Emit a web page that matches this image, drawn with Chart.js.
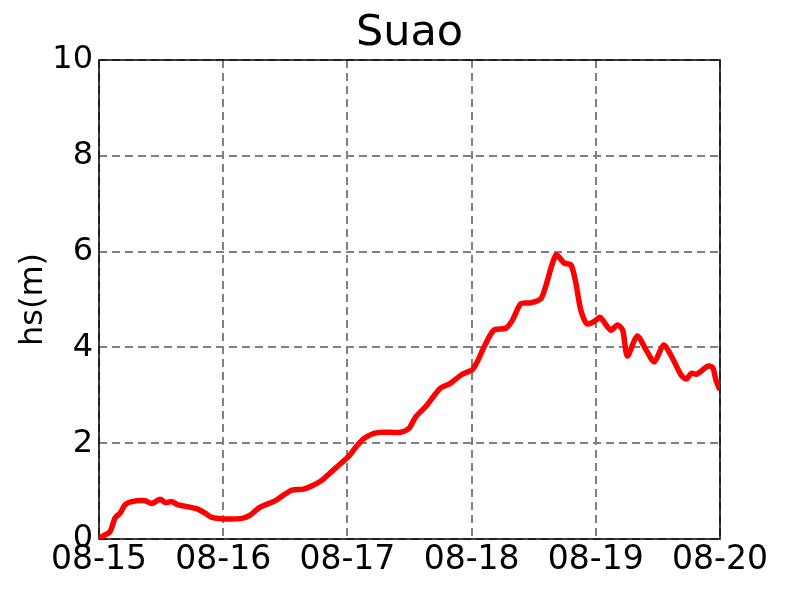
<!DOCTYPE html>
<html>
<head>
<meta charset="utf-8">
<script src="https://cdn.jsdelivr.net/npm/chart.js@4/dist/chart.umd.min.js"></script>
<style>
  html, body { margin: 0; padding: 0; background: #fff; }
  #wrap { width: 800px; height: 600px; }
</style>
</head>
<body>
<div id="wrap"><canvas id="myChart" width="800" height="600"></canvas></div>
<script>
// hours since 08-15 00:00 and significant wave height
const hours = [0, 2.1, 3.1, 4.1, 5.0, 6.3, 8.9, 10.2, 11.8, 12.8, 14.1, 15.3, 17.3, 19.2, 20.5, 21.8,
  24.1, 27.6, 29.2, 30.8, 32.1, 34.1, 35.7, 37.3, 39.5, 41.2, 43.1, 45.7, 48.3, 49.5,
  51.2, 53.8, 58.3, 59.9, 61.2, 63.1, 66.0, 67.9, 70.2, 72.1, 73.1, 74.4, 76.3, 78.6,
  79.9, 81.5, 83.4, 85.4, 86.3, 88.3, 89.9, 91.2, 92.1, 93.1, 94.3, 95.7, 96.8, 97.3,
  98.9, 100.2, 101.2, 102.1, 104.0, 105.7, 107.3, 109.1, 110.5, 112.5, 113.5, 114.5,
  115.5, 117.7, 118.6, 119.2, 120];
const hs = [0.02, 0.15, 0.44, 0.54, 0.71, 0.78, 0.80, 0.74, 0.83, 0.76, 0.78, 0.71, 0.67, 0.62, 0.54, 0.45,
  0.42, 0.43, 0.50, 0.64, 0.71, 0.80, 0.92, 1.02, 1.04, 1.11, 1.23, 1.48, 1.73, 1.90,
  2.10, 2.22, 2.23, 2.31, 2.55, 2.76, 3.15, 3.25, 3.44, 3.53, 3.70, 4.01, 4.36, 4.40,
  4.57, 4.91, 4.93, 5.02, 5.27, 5.93, 5.76, 5.72, 5.37, 4.78, 4.49, 4.54, 4.63, 4.57,
  4.36, 4.47, 4.36, 3.82, 4.24, 3.95, 3.70, 4.05, 3.84, 3.42, 3.34, 3.46,
  3.44, 3.61, 3.58, 3.32, 3.11];
const dayLabels = ['08-15', '08-16', '08-17', '08-18', '08-19', '08-20'];
const yTicks = [0, 2, 4, 6, 8, 10];

const points = hours.map((h, i) => ({x: h, y: hs[i]}));

// black box round the plot area, like matplotlib spines
const frame = {
  id: 'frame',
  beforeDatasetsDraw(chart) {
    const a = chart.chartArea, ctx = chart.ctx;
    ctx.save();
    ctx.strokeStyle = '#000';
    ctx.lineWidth = 1.5;
    ctx.strokeRect(a.left, a.top, a.right - a.left, a.bottom - a.top);
    ctx.restore();
  }
};

Chart.defaults.font.family = '"DejaVu Sans", sans-serif';
Chart.defaults.color = '#000';

new Chart('myChart', {
  type: 'line',
  data: {
    datasets: [{
      data: points,
      borderColor: '#ff0000',
      borderWidth: 5.5,
      pointRadius: 0,
      tension: 0.25,
      fill: false
    }]
  },
  options: {
    responsive: false,
    animation: false,
    layout: {padding: {left: 0, right: 80, top: 0, bottom: 0}},
    plugins: {
      legend: {display: false},
      tooltip: {enabled: false},
      title: {
        display: true,
        text: 'Suao',
        fullSize: false,
        color: '#000',
        font: {size: 43, weight: 'normal', lineHeight: 1.2},
        padding: {top: 8, bottom: 0.4}
      }
    },
    scales: {
      x: {
        type: 'linear',
        min: 0,
        max: 120,
        afterBuildTicks: s => { s.ticks = dayLabels.map((d, i) => ({value: i * 24})); },
        afterFit: s => { s.height = 61; },
        ticks: {
          callback: v => dayLabels[Math.round(v / 24)],
          font: {size: 33},
          padding: 2,
          maxRotation: 0,
          autoSkip: false
        },
        grid: {color: '#808080', lineWidth: 2, drawTicks: false},
        border: {display: false, dash: [8, 5]}
      },
      y: {
        min: 0,
        max: 10,
        afterBuildTicks: s => { s.ticks = yTicks.map(v => ({value: v})); },
        afterFit: s => { s.width = 99; },
        ticks: {font: {size: 32}, padding: 6},
        title: {display: true, text: 'hs(m)', font: {size: 32}, padding: {top: 14, bottom: 0}},
        grid: {color: '#808080', lineWidth: 2, drawTicks: false},
        border: {display: false, dash: [8, 5]}
      }
    }
  },
  plugins: [frame]
});
</script>
</body>
</html>
